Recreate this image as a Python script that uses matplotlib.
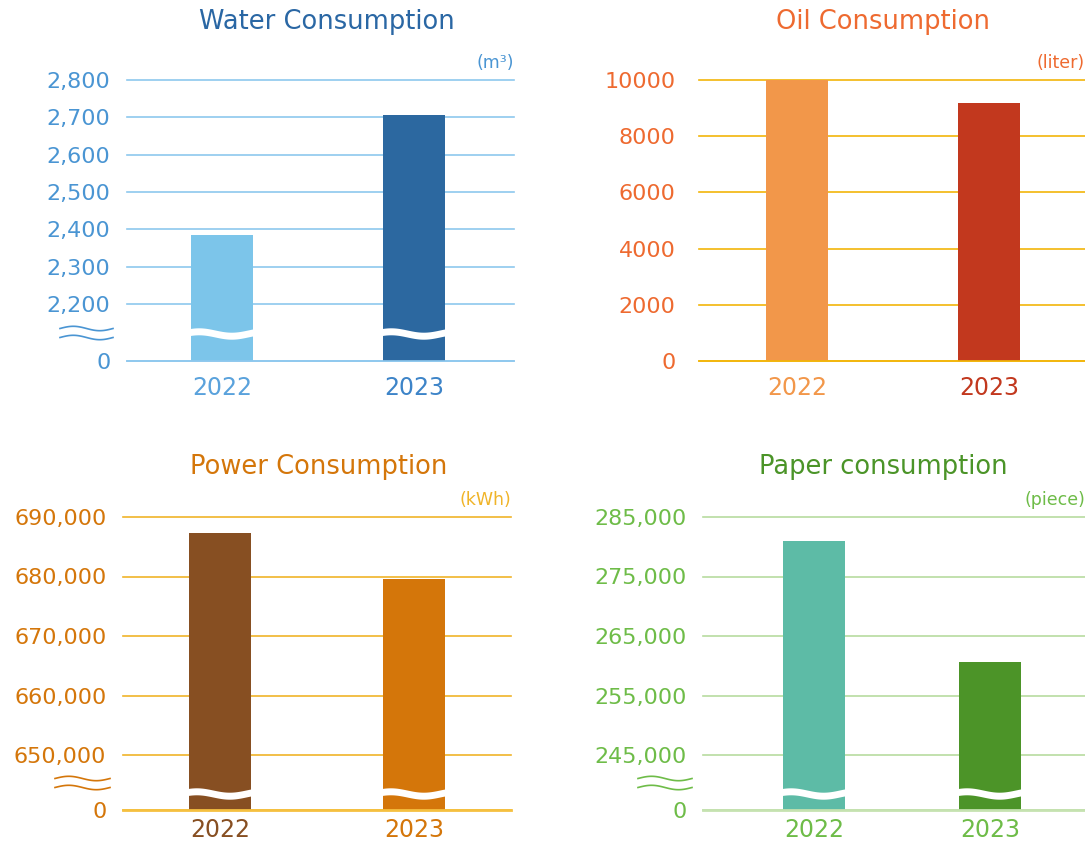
import numpy as np
import matplotlib
matplotlib.use("Agg")
import matplotlib.pyplot as plt
import matplotlib.transforms as mtransforms
from matplotlib.patches import Polygon

W, H = 1085, 844

years = ["2022", "2023"]

water = [2385, 2705]
water_ticks = [0, 2200, 2300, 2400, 2500, 2600, 2700, 2800]

oil = [9990, 9180]
oil_ticks = [0, 2000, 4000, 6000, 8000, 10000]

power = [687300, 679500]
power_ticks = [0, 650000, 660000, 670000, 680000, 690000]

paper = [280900, 260600]
paper_ticks = [0, 245000, 255000, 265000, 275000, 285000]

plt.rcParams["font.family"] = ["DejaVu Sans"]

fig = plt.figure(figsize=(W/100, H/100), dpi=100)


def px_box(l, t, r, b):
    # pixel box -> figure fraction
    return [l/W, 1 - b/H, (r - l)/W, (b - t)/H]


def broken_scale(brk, gap, k):
    # piecewise linear: 0..brk squeezed into 'gap' px, then k px per unit
    def fwd(v):
        v = np.asarray(v, dtype=float)
        return np.where(v < brk, v*gap/brk, gap + (v - brk)*k)

    def inv(p):
        p = np.asarray(p, dtype=float)
        return np.where(p < gap, p*brk/gap, brk + (p - gap)/k)
    return fwd, inv


def panel(box, title, title_xy, unit, values, ticks, fmt, bar_colors, xlab_colors,
          tick_color, title_color, unit_color, grid_color, zero_color, zero_lw,
          xlim, bar_w, scale=None, brk=None, label_pad=10, xpad=12):
    ax = fig.add_axes(px_box(*box))
    l, t, r, b = box
    w_px, h_px = r - l, b - t
    x = np.arange(len(values))
    ax.bar(x, values, width=bar_w, color=bar_colors, zorder=2)
    if scale is not None:
        ax.set_yscale("function", functions=scale)
    ax.set_ylim(0, ticks[-1])
    ax.set_xlim(*xlim)
    ax.set_yticks(ticks)
    ax.set_yticklabels([fmt.format(v) for v in ticks])
    ax.set_xticks(x)
    ax.set_xticklabels(years)
    ax.tick_params(axis="y", length=0, pad=label_pad, labelsize=16, labelcolor=tick_color)
    ax.tick_params(axis="x", length=0, pad=xpad, labelsize=17)
    for lbl, c in zip(ax.get_xticklabels(), xlab_colors):
        lbl.set_color(c)
    ax.grid(axis="y", color=grid_color, lw=1.2, zorder=0)
    ax.set_axisbelow(True)
    for gl in ax.get_ygridlines():
        gl.set_clip_on(False)
    for s in ["top", "left", "right"]:
        ax.spines[s].set_visible(False)
    ax.spines["bottom"].set_color(zero_color)
    ax.spines["bottom"].set_linewidth(zero_lw)

    fig.text(title_xy[0]/W, 1 - title_xy[1]/H, title, ha="center", va="center",
             fontsize=18.5, color=title_color)
    ax.text(1.0, 1 + 17/h_px, unit, transform=ax.transAxes, ha="right", va="center",
            fontsize=12.5, color=unit_color)

    if brk is not None:
        band_px, sym_px, sym_x = brk
        trans = mtransforms.blended_transform_factory(ax.transData, ax.transAxes)
        tt = np.linspace(0, 1, 60)
        for xi in x:
            xs = xi - bar_w/2 - 0.01 + tt*(bar_w + 0.02)
            yc = band_px + 2.2*np.sin(2*np.pi*(tt + 0.1))
            top = (yc + 3.5)/h_px
            bot = (yc - 3.5)/h_px
            pts = np.column_stack([np.r_[xs, xs[::-1]], np.r_[top, bot[::-1]]])
            ax.add_patch(Polygon(pts, closed=True, facecolor="white", edgecolor="none",
                                 transform=trans, zorder=3))
        xs = (sym_x[0] + tt*(sym_x[1] - sym_x[0]) - l)/w_px
        for off in (4.5, -4.5):
            ys = (sym_px + off + 2.2*np.sin(2*np.pi*tt))/h_px
            ax.plot(xs, ys, color=tick_color, lw=1.2, transform=ax.transAxes, clip_on=False)
    return ax


# Water
panel((127, 80, 514, 361), "Water Consumption", (327, 22), "(m³)", water, water_ticks, "{:,}",
      ["#7cc5ea", "#2c68a0"], ["#5aa2dc", "#3d84c8"],
      "#4a95d3", "#2a67a4", "#4a95d3", "#8ec8ee", "#8ec8ee", 1.2,
      (-0.495, 1.52), 0.32, scale=broken_scale(2200, 57, 224/600),
      brk=(27, 28, (60, 113)), label_pad=12, xpad=11)

# Oil
panel((699, 80, 1085, 361), "Oil Consumption", (883, 22), "(liter)", oil, oil_ticks, "{}",
      ["#f2974a", "#c2381e"], ["#f2974a", "#c2381e"],
      "#ee6a30", "#ee6a30", "#ee6a30", "#f2b50a", "#f2b50a", 1.2,
      (-0.51, 1.5), 0.32, label_pad=17, xpad=11)

# Power
panel((123, 517, 511, 810), "Power Consumption", (319, 467), "(kWh)", power, power_ticks, "{:,}",
      ["#874f22", "#d4760a"], ["#874f22", "#d4760a"],
      "#d4760a", "#d4760a", "#f0b429", "#f0b429", "#f5c040", 2.0,
      (-0.5, 1.5), 0.32, scale=broken_scale(650000, 55, 238/40000),
      brk=(16, 27, (55, 110)), label_pad=12, xpad=6)

# Paper
panel((703, 517, 1085, 810), "Paper consumption", (883, 467), "(piece)", paper, paper_ticks, "{:,}",
      ["#5dbba6", "#4c9428"], ["#6ebc48", "#6ebc48"],
      "#6ebc48", "#4b9428", "#6ebc48", "#b8dca0", "#c5e2b0", 2.0,
      (-0.63, 1.54), 0.35, scale=broken_scale(245000, 55, 238/40000),
      brk=(16, 27, (638, 692)), label_pad=12, xpad=6)

fig.savefig("out.png", dpi=100)
